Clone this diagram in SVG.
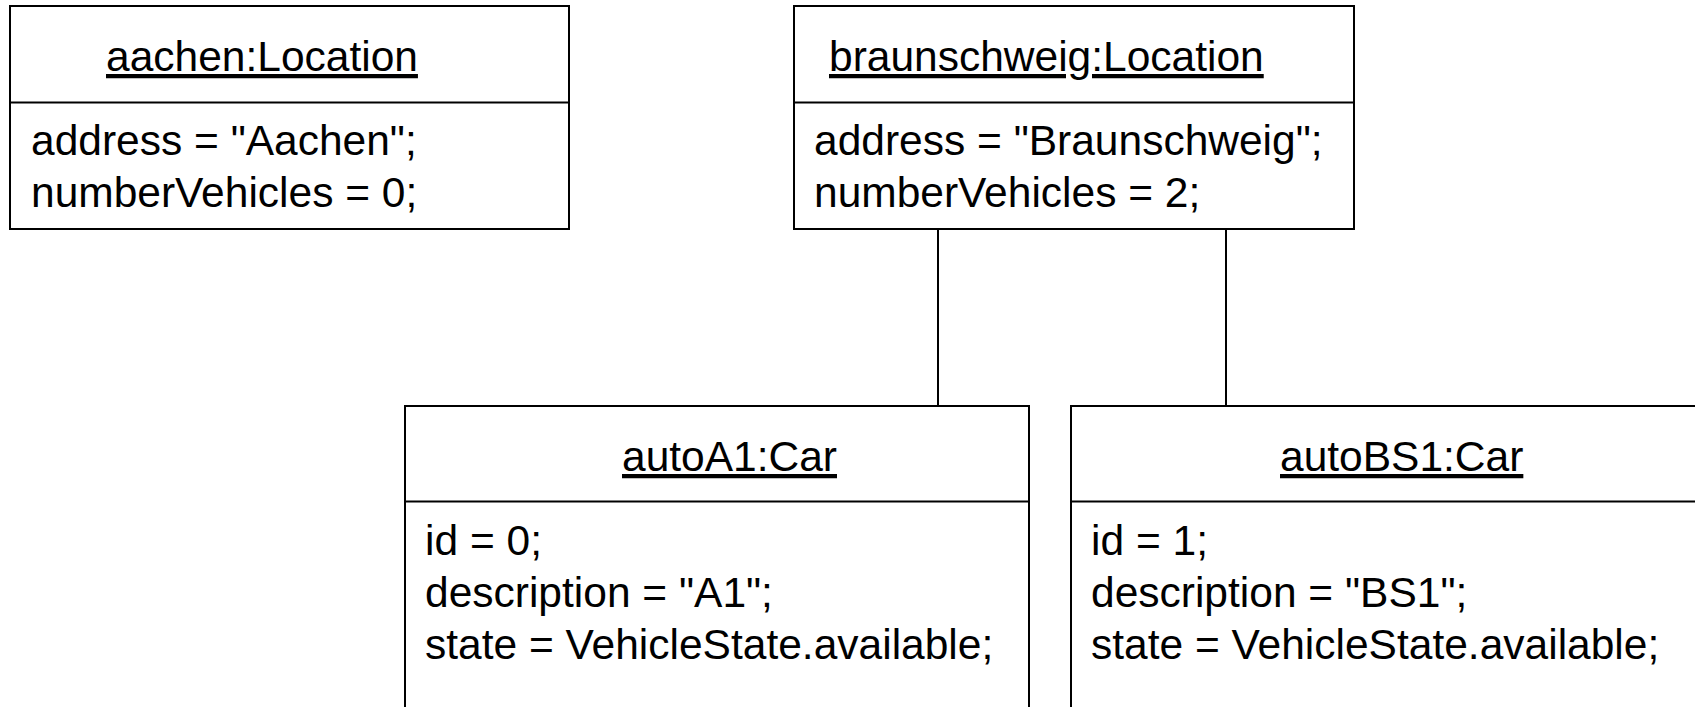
<svg xmlns="http://www.w3.org/2000/svg" width="1695" height="707" viewBox="0 0 1695 707">
  <style>
    .box { fill: #ffffff; stroke: #000000; stroke-width: 2; }
    .sep { stroke: #000000; stroke-width: 2; }
    .link { stroke: #000000; stroke-width: 2; fill: none; }
    text { font-family: "Liberation Sans", Arial, sans-serif; font-size: 42.5px; fill: #000000; }
    .title { text-decoration: underline; }
  </style>
  <rect width="1695" height="707" fill="#ffffff"/>

  <!-- links between locations and cars -->
  <g id="connectors">
    <line class="link" x1="938" y1="229" x2="938" y2="406"/>
    <line class="link" x1="1226" y1="229" x2="1226" y2="406"/>
  </g>

  <g id="aachen">
    <rect class="box" x="10" y="6" width="559" height="223"/>
    <line class="sep" x1="10" y1="102.5" x2="569" y2="102.5"/>
    <text class="title" x="106" y="71">aachen:Location</text>
    <text x="31" y="155">address = "Aachen";</text>
    <text x="31" y="207">numberVehicles = 0;</text>
  </g>

  <g id="braunschweig">
    <rect class="box" x="794" y="6" width="560" height="223"/>
    <line class="sep" x1="794" y1="102.5" x2="1354" y2="102.5"/>
    <text class="title" x="829" y="71">braunschweig:Location</text>
    <text x="814" y="155">address = "Braunschweig";</text>
    <text x="814" y="207">numberVehicles = 2;</text>
  </g>

  <g id="autoA1">
    <rect class="box" x="405" y="406" width="624" height="320"/>
    <line class="sep" x1="405" y1="501.5" x2="1029" y2="501.5"/>
    <text class="title" x="622" y="471">autoA1:Car</text>
    <text x="425" y="555">id = 0;</text>
    <text x="425" y="607">description = "A1";</text>
    <text x="425" y="659">state = VehicleState.available;</text>
  </g>

  <g id="autoBS1">
    <rect class="box" x="1071" y="406" width="660" height="320"/>
    <line class="sep" x1="1071" y1="501.5" x2="1731" y2="501.5"/>
    <text class="title" x="1280" y="471">autoBS1:Car</text>
    <text x="1091" y="555">id = 1;</text>
    <text x="1091" y="607">description = "BS1";</text>
    <text x="1091" y="659">state = VehicleState.available;</text>
  </g>
</svg>
